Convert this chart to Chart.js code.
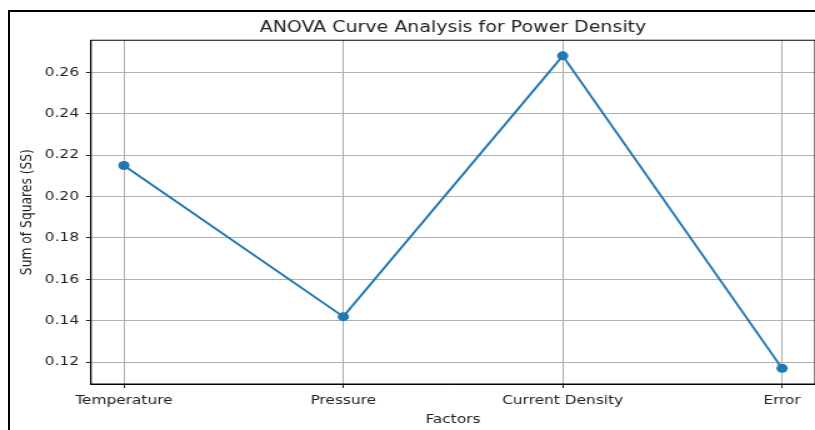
<!DOCTYPE html>
<html>
<head>
<meta charset="utf-8">
<script src="https://cdn.jsdelivr.net/npm/chart.js@4.4.0/dist/chart.umd.min.js"></script>
<style>
    html, body { margin: 0; padding: 0; background: #fff; overflow: hidden; }
    #page { position: relative; width: 815px; height: 430px; overflow: hidden; }
    /* the source picture is stretched sideways, so the chart is drawn narrow and widened */
    #wrap { position: absolute; left: 0; top: 0; width: 652px; height: 430px; transform: scaleX(1.25); transform-origin: 0 0; }
    #frame { position: absolute; left: 8px; top: 10px; width: 900px; height: 600px; border: 2px solid #000; pointer-events: none; }
</style>
</head>
<body>
<div id="page">
    <div id="wrap"><canvas id="anova-chart" width="652" height="430"></canvas></div>
    <div id="frame"></div>
</div>
<script>
// =====================================================
// ANOVA curve — sum of squares per factor
// =====================================================
const categories = ["Temperature", "Pressure", "Current Density", "Error"];
const ssValues = [0.215, 0.142, 0.268, 0.117];
const yTicks = [0.12, 0.14, 0.16, 0.18, 0.20, 0.22, 0.24, 0.26];

const FONT = "'DejaVu Sans', 'Liberation Sans', sans-serif";
const TEXT = "#222";

// matplotlib style 5% margins around the data
const yMin = Math.min(...ssValues), yMax = Math.max(...ssValues);
const yPad = (yMax - yMin) * 0.05;

const frameBox = {
    id: 'frameBox',
    afterDraw(chart) {
        const { ctx, chartArea: a } = chart;
        ctx.save();
        ctx.strokeStyle = "#000";
        ctx.lineWidth = 1;
        ctx.strokeRect(a.left, a.top, a.right - a.left, a.bottom - a.top);
        ctx.restore();
    }
};

const whiteBg = {
    id: 'whiteBg',
    beforeDraw(chart) {
        const ctx = chart.ctx;
        ctx.save();
        ctx.fillStyle = "#fff";
        ctx.fillRect(0, 0, chart.width, chart.height);
        ctx.restore();
    }
};

const ctx = document.getElementById("anova-chart");
new Chart(ctx, {
    type: "line",
    data: {
        datasets: [{
            label: "SS",
            data: ssValues.map((v, i) => ({ x: i, y: v })),
            borderColor: "#1f77b4",
            backgroundColor: "#1f77b4",
            borderWidth: 1.9,
            pointRadius: 4.5,
            pointHoverRadius: 4.5,
            pointBorderWidth: 0,
            tension: 0,
            fill: false
        }]
    },
    options: {
        responsive: false,
        animation: false,
        devicePixelRatio: 1,
        layout: { autoPadding: false, padding: { left: 0, right: 0, top: 0, bottom: 0 } },
        plugins: {
            legend: { display: false },
            tooltip: { enabled: false },
            title: {
                display: true,
                fullSize: false,
                text: "ANOVA Curve Analysis for Power Density",
                color: TEXT,
                font: { family: FONT, size: 15.2, weight: "normal" },
                padding: { top: 19, bottom: 3 }
            }
        },
        scales: {
            x: {
                type: "linear",
                min: -0.15,
                max: 3.15,
                afterBuildTicks: s => { s.ticks = categories.map((c, i) => ({ value: i })); },
                afterFit: s => { s.height = 46; s.paddingLeft = 0; s.paddingRight = 0; },
                ticks: {
                    color: TEXT,
                    font: { family: FONT, size: 12.3 },
                    padding: 5,
                    maxRotation: 0,
                    autoSkip: false,
                    callback: v => categories[v]
                },
                grid: { color: "#b0b0b0", lineWidth: 1, tickColor: "#222", tickLength: 4, tickWidth: 1 },
                border: { color: "#000", width: 1 },
                title: {
                    display: true,
                    text: "Factors",
                    color: TEXT,
                    font: { family: FONT, size: 12.3 },
                    padding: { top: 0, bottom: 3 }
                }
            },
            y: {
                min: yMin - yPad,
                max: yMax + yPad,
                afterBuildTicks: s => { s.ticks = yTicks.map(v => ({ value: v })); },
                afterFit: s => { s.width = 72.8; },
                ticks: {
                    color: TEXT,
                    font: { family: FONT, size: 12.3 },
                    padding: 5.6,
                    callback: v => v.toFixed(2)
                },
                grid: { color: "#b0b0b0", lineWidth: 1, tickColor: "#222", tickLength: 4, tickWidth: 1 },
                border: { color: "#000", width: 1 },
                title: {
                    display: true,
                    text: "Sum of Squares (SS)",
                    color: TEXT,
                    font: { family: FONT, size: 12.3 },
                    padding: { top: 14, bottom: 0 }
                }
            }
        }
    },
    plugins: [whiteBg, frameBox]
});
</script>
</body>
</html>
